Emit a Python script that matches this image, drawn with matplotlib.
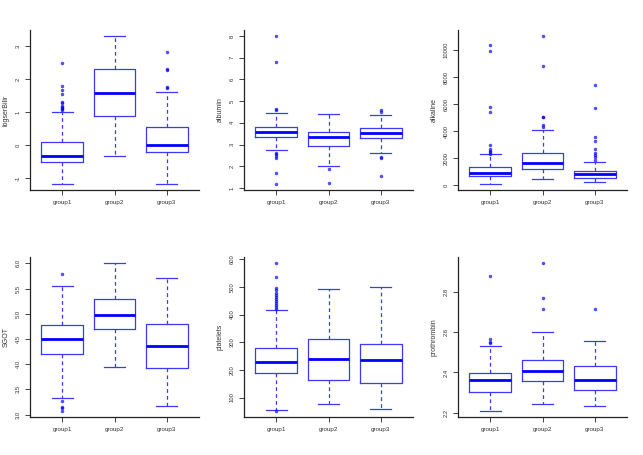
import matplotlib
matplotlib.use("Agg")
import matplotlib.pyplot as plt

plt.rcParams["font.family"] = ["Liberation Sans", "DejaVu Sans"]

groups = ["group1", "group2", "group3"]

# per group: [whisker low, q1, median, q3, whisker high]
bili_stats = [[-1.19, -0.505, -0.34, 0.09, 1.0],
              [-0.35, 0.88, 1.58, 2.30, 3.31],
              [-1.19, -0.22, 0.0, 0.535, 1.61]]
bili_out = [[2.49, 1.80, 1.67, 1.55, 1.31, 1.26, 1.19, 1.16, 1.13, 1.10, 1.05],
            [],
            [2.82, 2.32, 2.27, 1.76, 1.73]]

albumin_stats = [[2.75, 3.37, 3.60, 3.83, 4.46],
                 [2.0, 2.94, 3.34, 3.60, 4.41],
                 [2.62, 3.30, 3.54, 3.76, 4.38]]
albumin_out = [[8.0, 6.82, 4.64, 4.60, 2.59, 2.55, 2.49, 2.39, 1.67, 1.18],
               [1.87, 1.23],
               [4.58, 4.52, 2.41, 2.36, 1.57]]

alk_stats = [[74, 690, 911, 1355, 2290],
             [443, 1182, 1626, 2389, 4064],
             [246, 517, 837, 1034, 1724]]
alk_out = [[10419, 9951, 5813, 5443, 2956, 2685, 2561, 2438, 2340],
           [11059, 8793, 5074, 5024, 4433, 4335],
           [7414, 5739, 3596, 3300, 2685, 2364, 2217, 2094, 1847]]

sgot_stats = [[3.33, 4.20, 4.51, 4.78, 5.55],
              [3.95, 4.70, 4.97, 5.29, 6.01],
              [3.18, 3.93, 4.36, 4.80, 5.71]]
sgot_out = [[5.80, 3.26, 3.16, 3.13, 3.07], [], []]

plate_stats = [[55, 189, 230, 278, 417],
               [75, 164, 239, 312, 492],
               [58, 151, 237, 293, 500]]
plate_out = [[587, 536, 496, 489, 480, 470, 463, 458, 451, 443, 436, 429, 422, 51],
             [], []]

proth_stats = [[2.208, 2.304, 2.364, 2.398, 2.534],
               [2.241, 2.357, 2.408, 2.463, 2.603],
               [2.231, 2.314, 2.364, 2.433, 2.557]]
proth_out = [[2.881, 2.567, 2.554, 2.549],
             [2.945, 2.769, 2.716],
             [2.716]]

panels = [
    ("logserBilir", bili_stats, bili_out, [-1, 0, 1, 2, 3], ["-1", "0", "1", "2", "3"]),
    ("albumin", albumin_stats, albumin_out, [1, 2, 3, 4, 5, 6, 7, 8],
     ["1", "2", "3", "4", "5", "6", "7", "8"]),
    ("alkaline", alk_stats, alk_out, [0, 2000, 4000, 6000, 8000, 10000],
     ["0", "2000", "4000", "6000", "8000", "10000"]),
    ("SGOT", sgot_stats, sgot_out, [3.0, 3.5, 4.0, 4.5, 5.0, 5.5, 6.0],
     ["3.0", "3.5", "4.0", "4.5", "5.0", "5.5", "6.0"]),
    ("platelets", plate_stats, plate_out, [100, 200, 300, 400, 500, 600],
     ["100", "200", "300", "400", "500", "600"]),
    ("prothrombin", proth_stats, proth_out, [2.2, 2.4, 2.6, 2.8],
     ["2.2", "2.4", "2.6", "2.8"]),
]

W, H = 643, 455
lefts = [30, 244, 458]
bottoms = [190, 417]
pw, ph = 169, 160

fig = plt.figure(figsize=(W / 100, H / 100), dpi=100)
blue = "#0000ff"
light = "#3a3aff"
txt = "#333333"

for i, (name, stats, outs, yt, ytl) in enumerate(panels):
    r, c = divmod(i, 3)
    ax = fig.add_axes([lefts[c] / W, 1 - bottoms[r] / H, pw / W, ph / H])
    bxp = []
    for g, s, o in zip(groups, stats, outs):
        bxp.append({"label": g, "whislo": s[0], "q1": s[1], "med": s[2],
                    "q3": s[3], "whishi": s[4], "fliers": o})
    ax.bxp(bxp, positions=[1, 2, 3], widths=0.8, patch_artist=False,
           boxprops=dict(color=light, lw=0.9),
           whiskerprops=dict(color=light, lw=0.9, linestyle=(0, (3, 2.5))),
           capprops=dict(color=light, lw=0.9),
           medianprops=dict(color=blue, lw=2.0, solid_capstyle="butt"),
           flierprops=dict(marker="o", markersize=2.2, markerfacecolor=blue,
                           markeredgecolor=blue, markeredgewidth=0.3, alpha=0.65),
           capwidths=0.4)
    allv = [v for s in stats for v in (s[0], s[4])] + [v for o in outs for v in o]
    lo, hi = min(allv), max(allv)
    pad = (hi - lo) * 0.04
    ax.set_ylim(lo - pad, hi + pad)
    ax.set_xlim(0.38, 3.62)
    ax.set_xticks([1, 2, 3])
    ax.set_xticklabels(groups, fontsize=4.5)
    ax.set_yticks(yt)
    ax.set_yticklabels(ytl, rotation=90, va="center", fontsize=4.2)
    ax.set_ylabel(name, fontsize=5, color=txt, labelpad=4.5)
    for sp in ("top", "right"):
        ax.spines[sp].set_visible(False)
    for sp in ("left", "bottom"):
        ax.spines[sp].set_color("#222222")
        ax.spines[sp].set_linewidth(0.9)
    ax.tick_params(axis="both", direction="out", length=3.5, width=0.6,
                   colors="#222222", labelcolor=txt, pad=3)
    ax.tick_params(axis="x", pad=4)

fig.savefig("out.png", dpi=100)
